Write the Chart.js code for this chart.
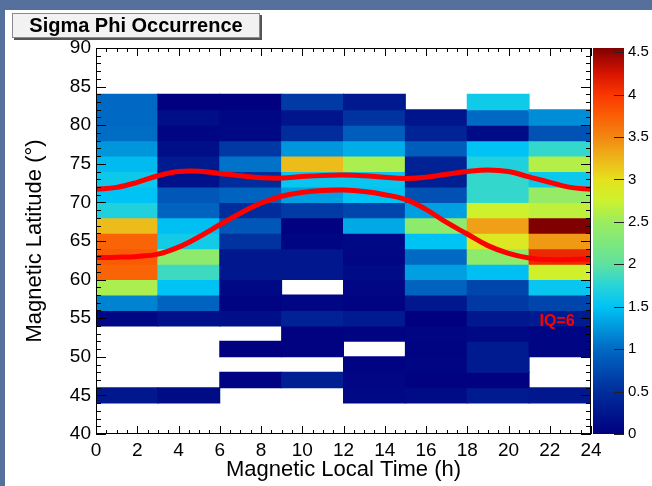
<!DOCTYPE html>
<html>
<head>
<meta charset="utf-8">
<script src="https://cdn.jsdelivr.net/npm/chart.js@4.4.1/dist/chart.umd.min.js"></script>
<style>
html,body{margin:0;padding:0;width:652px;height:486px;overflow:hidden;background:#56709e;}
#panel{position:absolute;left:5px;top:10px;width:647px;height:476px;background:#ffffff;}
#wrap{position:absolute;left:0;top:0;width:652px;height:486px;}
</style>
</head>
<body>
<div id="panel"></div>
<div id="wrap"><canvas id="c" width="652" height="486"></canvas></div>
<script>
// ---------------- data ----------------
const mltBinStarts = [0, 3, 6, 9, 12, 15, 18, 21];          // MLT bin starts (h), width 3 h
const mltBinWidth = 3;
const latBinStarts = [44,46,48,50,52,54,56,58,60,62,64,66,68,70,72,74,76,78,80,82]; // width 2 deg
const latBinWidth = 2;

// occurrence per MLT bin, ordered by latitude bin (44-46 ... 82-84); null = empty
const occ_00_03 = [0.25,null,null,null,null,0.08,1.15,2.58,3.72,3.78,3.72,3.2,1.7,1.5,1.58,1.45,1.25,1.02,1.0,1.0];
const occ_03_06 = [0.12,null,null,null,null,0.18,0.95,1.5,1.85,2.38,1.62,1.48,0.95,0.85,0.2,0.3,0.15,0.06,0.15,0.0];
const occ_06_09 = [null,0.04,null,0.0,null,0.15,0.04,0.1,0.25,0.25,0.55,0.85,0.5,0.95,0.5,1.05,0.6,0.1,0.08,0.0];
const occ_09_12 = [null,0.35,null,0.02,0.02,0.38,0.07,null,0.25,0.25,0.06,0.02,0.62,1.3,1.55,3.2,1.25,0.5,0.22,0.62];
const occ_12_15 = [0.1,0.07,0.04,null,0.04,0.3,0.04,0.07,0.12,0.07,0.1,1.35,0.7,1.5,1.55,2.58,1.38,0.9,0.55,0.28];
const occ_15_18 = [0.12,0.02,0.05,0.04,0.05,0.0,0.25,0.95,1.3,1.0,1.5,2.38,1.3,0.8,0.35,0.38,0.9,0.4,0.22,null];
const occ_18_21 = [0.3,0.02,0.3,0.3,0.1,0.25,0.6,0.7,1.48,2.38,2.9,3.36,2.75,1.8,1.8,1.7,1.5,0.13,1.0,1.6];
const occ_21_24 = [0.25,null,null,0.05,0.05,0.3,0.7,1.55,2.78,4.1,3.4,4.55,2.68,2.45,1.58,2.62,1.8,0.82,1.2,null];
const occurrenceByMlt = [occ_00_03, occ_03_06, occ_06_09, occ_09_12, occ_12_15, occ_15_18, occ_18_21, occ_21_24];

// boundary curves (IQ=6)
const boundaryMlt = [0,1,2,3,4,5,6,7,8,9,10,11,12,13,14,15,16,17,18,19,20,21,22,23,24];
const upperBoundaryLat = [71.7,71.95,72.6,73.45,74.0,74.05,73.75,73.45,73.2,73.15,73.35,73.5,73.55,73.45,73.25,73.1,73.25,73.65,74.0,74.2,74.0,73.3,72.6,71.95,71.7];
const lowerBoundaryLat = [62.85,62.9,63.0,63.3,64.2,65.55,67.1,68.6,69.9,70.8,71.3,71.55,71.6,71.4,71.0,70.4,69.1,67.4,65.9,64.4,63.4,62.8,62.6,62.6,62.7];

// tick labels
const mltTickValues = [0,2,4,6,8,10,12,14,16,18,20,22,24];
const latTickValues = [40,45,50,55,60,65,70,75,80,85,90];
const colorTickValues = [0,0.5,1,1.5,2,2.5,3,3.5,4,4.5];
const colorScaleMax = 4.55;

const chartTitle = 'Sigma Phi Occurrence';
const xTitle = 'Magnetic Local Time (h)';
const yTitle = 'Magnetic Latitude (\u00B0)';
const curveLabel = 'IQ=6';

// ---------------- style ----------------
const FONT = '"Liberation Sans", Arial, Helvetica, sans-serif';
Chart.defaults.font.family = FONT;

const paletteStops = [
  [0.0, [0,0,128]], [0.5, [0,45,155]], [1.0, [0,105,195]], [1.5, [0,195,245]],
  [1.75, [40,212,215]], [2.0, [95,225,160]], [2.25, [125,232,125]], [2.5, [155,236,95]],
  [2.75, [205,242,45]], [3.0, [230,225,30]], [3.25, [238,180,25]], [3.5, [242,135,18]],
  [3.75, [250,95,5]], [4.0, [250,55,0]], [4.25, [215,20,0]], [4.55, [128,0,0]]
];
function colorFor(v) {
  if (v <= paletteStops[0][0]) return rgb(paletteStops[0][1]);
  for (let i = 1; i < paletteStops.length; i++) {
    const [v1, c1] = paletteStops[i];
    if (v <= v1) {
      const [v0, c0] = paletteStops[i - 1];
      const t = (v - v0) / (v1 - v0);
      return rgb(c0.map((c, k) => c + (c1[k] - c) * t));
    }
  }
  return rgb(paletteStops[paletteStops.length - 1][1]);
}
function rgb(c) { return 'rgb(' + c.map(Math.round).join(',') + ')'; }

// build cells from arrays
const cells = [];
mltBinStarts.forEach((m, ci) => {
  latBinStarts.forEach((lat, ri) => {
    const v = occurrenceByMlt[ci][ri];
    if (v !== null && v !== undefined) {
      cells.push({ x: [m, m + mltBinWidth], y: lat + latBinWidth / 2, v: v });
    }
  });
});

const chromePlugin = {
  id: 'chrome',
  afterDatasetsDraw(chart) {
    const { ctx, chartArea: a, scales } = chart;
    const x = scales.x, y = scales.y, cb = scales.cb;
    ctx.save();
    // frame
    ctx.strokeStyle = '#000';
    ctx.lineWidth = 1;
    const L = Math.round(a.left), R = Math.round(a.right), T = Math.round(a.top), B = Math.round(a.bottom);
    ctx.strokeRect(L + 0.5, T + 0.5, R - L - 1, B - T - 1);
    // ticks
    ctx.beginPath();
    for (let v = 40; v <= 90; v += 1) {
      const py = Math.round(y.getPixelForValue(v)) + 0.5;
      const len = v % 5 === 0 ? 10 : 5;
      ctx.moveTo(L, py); ctx.lineTo(L + len, py);
      ctx.moveTo(R, py); ctx.lineTo(R - len, py);
    }
    for (let h = 0; h <= 24; h += 0.5) {
      const px = Math.round(x.getPixelForValue(h)) + 0.5;
      const len = h % 2 === 0 ? 8 : 4;
      ctx.moveTo(px, B); ctx.lineTo(px, B - len);
      ctx.moveTo(px, T); ctx.lineTo(px, T + len);
    }
    ctx.stroke();

    // colour bar
    const cbL = R + 2, cbR = R + 33;
    const y0 = cb.getPixelForValue(0), y1 = cb.getPixelForValue(colorScaleMax);
    const g = ctx.createLinearGradient(0, y0, 0, y1);
    paletteStops.forEach(([v, c]) => g.addColorStop(Math.min(1, v / colorScaleMax), rgb(c)));
    ctx.fillStyle = g;
    ctx.fillRect(cbL, y1, cbR - cbL, y0 - y1);
    ctx.strokeStyle = '#222';
    ctx.beginPath();
    colorTickValues.forEach(v => {
      const py = Math.round(cb.getPixelForValue(v)) + 0.5;
      ctx.moveTo(cbR, py); ctx.lineTo(cbR - 10, py);
    });
    ctx.stroke();

    // IQ label
    ctx.fillStyle = '#ff0000';
    ctx.font = 'bold 16px ' + FONT;
    ctx.textAlign = 'left';
    ctx.textBaseline = 'alphabetic';
    ctx.fillText(curveLabel, x.getPixelForValue(21.5), y.getPixelForValue(54.0));

    // title box
    ctx.fillStyle = '#555';
    ctx.fillRect(14, 15, 248, 25);
    ctx.fillStyle = '#f2f2f2';
    ctx.fillRect(12, 13, 248, 25);
    ctx.strokeStyle = '#8a8a8a';
    ctx.strokeRect(12.5, 13.5, 247, 24);
    ctx.fillStyle = '#000';
    ctx.font = 'bold 20px ' + FONT;
    ctx.textAlign = 'center';
    ctx.fillText(chartTitle, 136, 32);
    ctx.restore();
  }
};

new Chart(document.getElementById('c'), {
  type: 'bar',
  data: {
    datasets: [
      {
        type: 'line', label: 'Upper boundary', indexAxis: 'x',
        data: boundaryMlt.map((m, i) => ({ x: m, y: upperBoundaryLat[i] })),
        borderColor: '#ff0000', borderWidth: 5, pointRadius: 0, tension: 0.4, fill: false,
        order: 0, xAxisID: 'x', yAxisID: 'y'
      },
      {
        type: 'line', label: 'Lower boundary', indexAxis: 'x',
        data: boundaryMlt.map((m, i) => ({ x: m, y: lowerBoundaryLat[i] })),
        borderColor: '#ff0000', borderWidth: 5, pointRadius: 0, tension: 0.4, fill: false,
        order: 0, xAxisID: 'x', yAxisID: 'y'
      },
      {
        type: 'bar', label: 'Sigma Phi occurrence', indexAxis: 'y',
        data: cells,
        backgroundColor: c => (c.raw ? colorFor(c.raw.v) : 'rgba(0,0,0,0)'),
        borderWidth: 0, barPercentage: 1, categoryPercentage: 1, inflateAmount: 0.5,
        order: 1, xAxisID: 'x', yAxisID: 'y'
      }
    ]
  },
  options: {
    responsive: false,
    animation: false,
    events: [],
    layout: { padding: { top: 48, left: 0, right: 0, bottom: 0 } },
    plugins: { legend: { display: false }, tooltip: { enabled: false }, title: { display: false } },
    scales: {
      x: {
        type: 'linear', position: 'bottom', min: 0, max: 24, offset: false,
        afterBuildTicks: s => { s.ticks = mltTickValues.map(v => ({ value: v })); },
        afterFit: s => { s.height = 52; },
        grid: { display: false, drawTicks: false, offset: false },
        border: { display: false },
        ticks: { font: { size: 19 }, color: '#000', padding: 5, maxRotation: 0, autoSkip: false, callback: v => String(v) },
        title: { display: true, text: xTitle, font: { size: 22 }, color: '#000', padding: { top: 0, bottom: 3 } }
      },
      y: {
        type: 'linear', position: 'left', min: 40, max: 90, offset: false,
        afterBuildTicks: s => { s.ticks = latTickValues.map(v => ({ value: v })); },
        afterFit: s => { s.width = 96; },
        grid: { display: false, drawTicks: false, offset: false },
        border: { display: false },
        ticks: { font: { size: 19 }, color: '#000', padding: 5, autoSkip: false, callback: v => String(v) },
        title: { display: true, text: yTitle, font: { size: 22 }, color: '#000', padding: { top: 22, bottom: 0 } }
      },
      cb: {
        type: 'linear', axis: 'y', position: 'right', min: 0, max: colorScaleMax, offset: false,
        afterBuildTicks: s => { s.ticks = colorTickValues.map(v => ({ value: v })); },
        afterFit: s => { s.width = 61; },
        grid: { display: false, drawTicks: false, offset: false },
        border: { display: false },
        ticks: { font: { size: 15 }, color: '#000', padding: 37, autoSkip: false, callback: v => String(v) }
      }
    }
  },
  plugins: [chromePlugin]
});
</script>
</body>
</html>
